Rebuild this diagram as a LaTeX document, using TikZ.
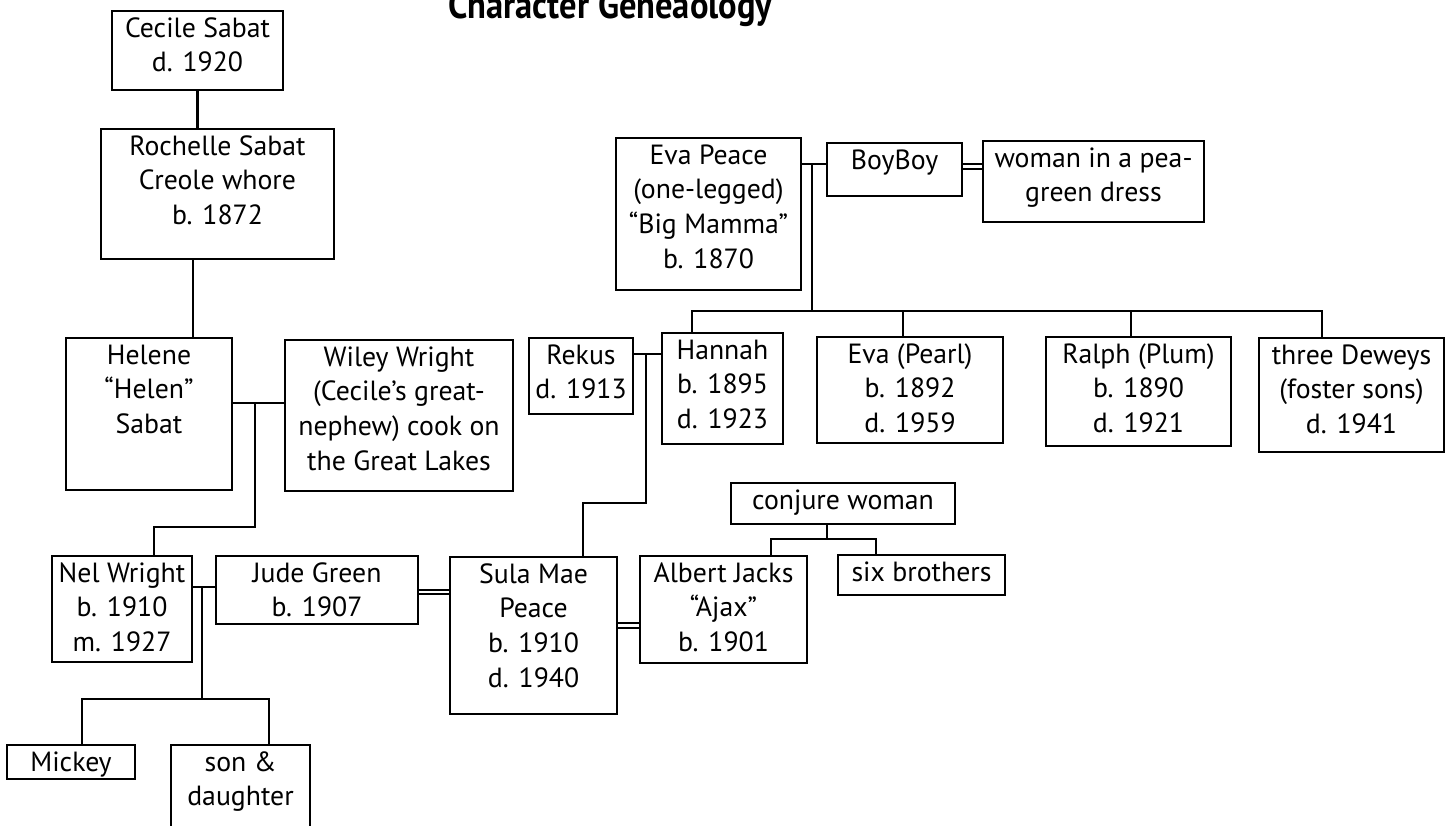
\documentclass[tikz,border=0pt]{standalone}
\usepackage{fontspec}
\setmainfont{PT Sans}
\usepackage{graphicx}
\usetikzlibrary{fit,positioning}
\tikzset{
  pbox/.style={draw, line width=1.3pt, inner sep=0pt},
  ptext/.style={anchor=north, align=center, inner sep=0pt,
    font=\fontsize{15.8}{19.8}\selectfont},
  kinln/.style={line width=1.3pt},
  marrln/.style={double, double distance=1.5pt, line width=1pt},
}
% box from (left,top) to (right,bottom), text hung from the top edge
\newcommand{\person}[6]{%
  \node[pbox, fit={(#2,#3) (#4,#5)}] (#1) {};
  \node[ptext] (#1-txt) at ([yshift=-0.05cm]#1.north) {\strut #6};
}

\begin{document}
\begin{tikzpicture}[x=0.02cm, y=-0.02cm]
    \useasboundingbox (0,0) rectangle (1450,825);
    \node[anchor=base west, inner sep=0pt] (title) at (448,18)
      {\resizebox{6.48cm}{\height}{\fontsize{22}{22}\selectfont\bfseries Character Geneaology}};

    % Sabat / Wright side
    \person{cecile}{112}{11}{283}{90}{Cecile Sabat\\d. 1920}
    \person{rochelle}{101}{129}{334}{259}{Rochelle Sabat\\Creole whore\\b. 1872}
    \person{helene}{66}{338}{232}{490}{Helene\\“Helen”\\Sabat}
    \person{wiley}{285}{340}{513}{491}{Wiley Wright\\(Cecile’s great-\\nephew) cook on\\the Great Lakes}
    \person{nel}{52}{556}{192}{662}{Nel Wright\\b. 1910\\m. 1927}
    \person{jude}{216}{556}{418}{624}{Jude Green\\b. 1907}
    \person{mickey}{7}{745}{135}{779}{Mickey}
    \person{sondau}{171}{745}{310}{860}{son \&\\daughter}

    % Peace side
    \person{eva}{616}{138}{801}{290}{Eva Peace\\(one-legged)\\“Big Mamma”\\b. 1870}
    \person{boyboy}{827}{143}{962}{196}{BoyBoy}
    \person{woman}{983}{141}{1204}{222}{woman in a pea-\\green dress}
    \person{rekus}{529}{338}{633}{414}{Rekus\\d. 1913}
    \person{hannah}{662}{333}{783}{444}{Hannah\\b. 1895\\d. 1923}
    \person{pearl}{817}{337}{1003}{443}{Eva (Pearl)\\b. 1892\\d. 1959}
    \person{ralph}{1046}{337}{1231}{446}{Ralph (Plum)\\b. 1890\\d. 1921}
    \person{deweys}{1259}{338}{1444}{452}{three Deweys\\(foster sons)\\d. 1941}
    \person{sula}{450}{557}{617}{714}{Sula Mae\\Peace\\b. 1910\\d. 1940}
    \person{albert}{640}{556}{807}{663}{Albert Jacks\\“Ajax”\\b. 1901}
    \person{conjure}{731}{483}{955}{524}{conjure woman}
    \person{sixbro}{838}{555}{1005}{595}{six brothers}

    % junction points
    \coordinate (rh) at (193,0);
    \coordinate (hw) at (255,403);
    \coordinate (nelj) at (154,527);
    \coordinate (nj) at (202,587);
    \coordinate (mk) at (82,699);
    \coordinate (sd) at (269,699);
    \coordinate (eb) at (812,164);
    \coordinate (hk) at (692,311);
    \coordinate (pk) at (903,311);
    \coordinate (rk) at (1131,311);
    \coordinate (dk) at (1322,311);
    \coordinate (rhj) at (646,354);
    \coordinate (sj) at (583,503);
    \coordinate (cj) at (827,539);
    \coordinate (aj) at (771,539);
    \coordinate (bj) at (876,539);

    % Sabat / Wright lines
    \draw[kinln] (cecile.south) -- (cecile.south |- rochelle.north);
    \draw[kinln] (rochelle.south -| rh) -- (helene.north -| rh);
    \draw[kinln] (helene.east |- hw) -- (wiley.west |- hw);
    \draw[kinln] (hw) |- (nelj) -- (nelj |- nel.north);
    \draw[kinln] (nel.east |- nj) -- (jude.west |- nj);
    \draw[kinln] (nj) -- (nj |- mk);
    \draw[kinln] (mk |- mickey.north) -- (mk) -- (sd) -- (sd |- sondau.north);
    \draw[marrln] ([yshift=-0.04cm]jude.east) -- ([yshift=-0.04cm]jude.east -| sula.west);

    % Peace lines
    \draw[kinln] (eva.east |- eb) -- (boyboy.west |- eb);
    \draw[marrln] ([yshift=0.06cm]boyboy.east) -- ([yshift=0.06cm]boyboy.east -| woman.west);
    \draw[kinln] (eb) -- (eb |- hk);
    \draw[kinln] (hk |- hannah.north) -- (hk) -- (dk) -- (dk |- deweys.north);
    \draw[kinln] (pk) -- (pk |- pearl.north);
    \draw[kinln] (rk) -- (rk |- ralph.north);
    \draw[kinln] (rekus.east |- rhj) -- (hannah.west |- rhj);
    \draw[kinln] (rhj) |- (sj) -- (sj |- sula.north);
    \draw[marrln] ([yshift=0.2cm]sula.east) -- ([yshift=0.2cm]sula.east -| albert.west);
    \draw[kinln] (conjure.south -| cj) -- (cj);
    \draw[kinln] (aj |- albert.north) -- (aj) -- (bj) -- (bj |- sixbro.north);
\end{tikzpicture}
\end{document}
